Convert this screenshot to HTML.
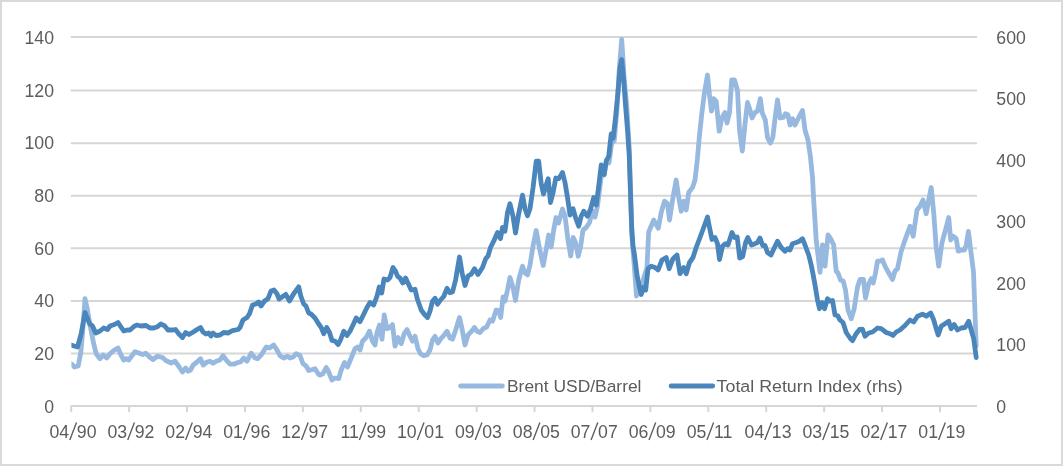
<!DOCTYPE html>
<html><head><meta charset="utf-8"><title>chart</title>
<style>
html,body{margin:0;padding:0;background:#fff;}
body{width:1063px;height:466px;overflow:hidden;}
svg{display:block;will-change:transform;}
text{font-family:"Liberation Sans",sans-serif;font-size:17.7px;fill:#5c5c5c;}
</style></head><body>
<svg width="1063" height="466" viewBox="0 0 1063 466">
<rect x="0" y="0" width="1063" height="466" fill="#ffffff"/>
<rect x="1" y="1" width="1061" height="464" fill="none" stroke="#d9d9d9" stroke-width="2"/>
<defs><clipPath id="pc"><rect x="71.4" y="30" width="908.8" height="380"/></clipPath></defs>

<line x1="70.8" x2="977.0" y1="37.00" y2="37.00" stroke="#d6d6d6" stroke-width="2.0"/>
<text x="54.0" y="43.80" text-anchor="end">140</text>
<line x1="70.8" x2="977.0" y1="90.50" y2="90.50" stroke="#d6d6d6" stroke-width="2.0"/>
<text x="54.0" y="96.51" text-anchor="end">120</text>
<line x1="70.8" x2="977.0" y1="143.20" y2="143.20" stroke="#d6d6d6" stroke-width="2.0"/>
<text x="54.0" y="149.22" text-anchor="end">100</text>
<line x1="70.8" x2="977.0" y1="195.70" y2="195.70" stroke="#d6d6d6" stroke-width="2.0"/>
<text x="54.0" y="201.93" text-anchor="end">80</text>
<line x1="70.8" x2="977.0" y1="248.30" y2="248.30" stroke="#d6d6d6" stroke-width="2.0"/>
<text x="54.0" y="254.64" text-anchor="end">60</text>
<line x1="70.8" x2="977.0" y1="300.90" y2="300.90" stroke="#d6d6d6" stroke-width="2.0"/>
<text x="54.0" y="307.35" text-anchor="end">40</text>
<line x1="70.8" x2="977.0" y1="353.50" y2="353.50" stroke="#d6d6d6" stroke-width="2.0"/>
<text x="54.0" y="360.06" text-anchor="end">20</text>
<text x="54.0" y="412.77" text-anchor="end">0</text>
<text x="996.3" y="43.50">600</text>
<text x="996.3" y="105.00">500</text>
<text x="996.3" y="166.50">400</text>
<text x="996.3" y="228.00">300</text>
<text x="996.3" y="289.50">200</text>
<text x="996.3" y="351.00">100</text>
<text x="996.3" y="412.50">0</text>
<line x1="70.60000000000001" x2="977.0" y1="406.0" y2="406.0" stroke="#d6d6d6" stroke-width="2.0"/>
<line x1="71.20" x2="71.20" y1="406.0" y2="412.2" stroke="#d6d6d6" stroke-width="2.0"/>
<text x="69.20" y="437.7" text-anchor="end">04</text>
<line x1="69.80" y1="440.0" x2="76.50" y2="422.6" stroke="#5c5c5c" stroke-width="1.35"/>
<text x="76.80" y="437.7">90</text>
<line x1="129.12" x2="129.12" y1="406.0" y2="412.2" stroke="#d6d6d6" stroke-width="2.0"/>
<text x="127.12" y="437.7" text-anchor="end">03</text>
<line x1="127.72" y1="440.0" x2="134.42" y2="422.6" stroke="#5c5c5c" stroke-width="1.35"/>
<text x="134.72" y="437.7">92</text>
<line x1="187.04" x2="187.04" y1="406.0" y2="412.2" stroke="#d6d6d6" stroke-width="2.0"/>
<text x="185.04" y="437.7" text-anchor="end">02</text>
<line x1="185.64" y1="440.0" x2="192.34" y2="422.6" stroke="#5c5c5c" stroke-width="1.35"/>
<text x="192.64" y="437.7">94</text>
<line x1="244.96" x2="244.96" y1="406.0" y2="412.2" stroke="#d6d6d6" stroke-width="2.0"/>
<text x="242.96" y="437.7" text-anchor="end">01</text>
<line x1="243.56" y1="440.0" x2="250.26" y2="422.6" stroke="#5c5c5c" stroke-width="1.35"/>
<text x="250.56" y="437.7">96</text>
<line x1="302.88" x2="302.88" y1="406.0" y2="412.2" stroke="#d6d6d6" stroke-width="2.0"/>
<text x="300.88" y="437.7" text-anchor="end">12</text>
<line x1="301.48" y1="440.0" x2="308.18" y2="422.6" stroke="#5c5c5c" stroke-width="1.35"/>
<text x="308.48" y="437.7">97</text>
<line x1="360.80" x2="360.80" y1="406.0" y2="412.2" stroke="#d6d6d6" stroke-width="2.0"/>
<text x="358.80" y="437.7" text-anchor="end">11</text>
<line x1="359.40" y1="440.0" x2="366.10" y2="422.6" stroke="#5c5c5c" stroke-width="1.35"/>
<text x="366.40" y="437.7">99</text>
<line x1="418.72" x2="418.72" y1="406.0" y2="412.2" stroke="#d6d6d6" stroke-width="2.0"/>
<text x="416.72" y="437.7" text-anchor="end">10</text>
<line x1="417.32" y1="440.0" x2="424.02" y2="422.6" stroke="#5c5c5c" stroke-width="1.35"/>
<text x="424.32" y="437.7">01</text>
<line x1="476.64" x2="476.64" y1="406.0" y2="412.2" stroke="#d6d6d6" stroke-width="2.0"/>
<text x="474.64" y="437.7" text-anchor="end">09</text>
<line x1="475.24" y1="440.0" x2="481.94" y2="422.6" stroke="#5c5c5c" stroke-width="1.35"/>
<text x="482.24" y="437.7">03</text>
<line x1="534.56" x2="534.56" y1="406.0" y2="412.2" stroke="#d6d6d6" stroke-width="2.0"/>
<text x="532.56" y="437.7" text-anchor="end">08</text>
<line x1="533.16" y1="440.0" x2="539.86" y2="422.6" stroke="#5c5c5c" stroke-width="1.35"/>
<text x="540.16" y="437.7">05</text>
<line x1="592.48" x2="592.48" y1="406.0" y2="412.2" stroke="#d6d6d6" stroke-width="2.0"/>
<text x="590.48" y="437.7" text-anchor="end">07</text>
<line x1="591.08" y1="440.0" x2="597.78" y2="422.6" stroke="#5c5c5c" stroke-width="1.35"/>
<text x="598.08" y="437.7">07</text>
<line x1="650.40" x2="650.40" y1="406.0" y2="412.2" stroke="#d6d6d6" stroke-width="2.0"/>
<text x="648.40" y="437.7" text-anchor="end">06</text>
<line x1="649.00" y1="440.0" x2="655.70" y2="422.6" stroke="#5c5c5c" stroke-width="1.35"/>
<text x="656.00" y="437.7">09</text>
<line x1="708.32" x2="708.32" y1="406.0" y2="412.2" stroke="#d6d6d6" stroke-width="2.0"/>
<text x="706.32" y="437.7" text-anchor="end">05</text>
<line x1="706.92" y1="440.0" x2="713.62" y2="422.6" stroke="#5c5c5c" stroke-width="1.35"/>
<text x="713.92" y="437.7">11</text>
<line x1="766.24" x2="766.24" y1="406.0" y2="412.2" stroke="#d6d6d6" stroke-width="2.0"/>
<text x="764.24" y="437.7" text-anchor="end">04</text>
<line x1="764.84" y1="440.0" x2="771.54" y2="422.6" stroke="#5c5c5c" stroke-width="1.35"/>
<text x="771.84" y="437.7">13</text>
<line x1="824.16" x2="824.16" y1="406.0" y2="412.2" stroke="#d6d6d6" stroke-width="2.0"/>
<text x="822.16" y="437.7" text-anchor="end">03</text>
<line x1="822.76" y1="440.0" x2="829.46" y2="422.6" stroke="#5c5c5c" stroke-width="1.35"/>
<text x="829.76" y="437.7">15</text>
<line x1="882.08" x2="882.08" y1="406.0" y2="412.2" stroke="#d6d6d6" stroke-width="2.0"/>
<text x="880.08" y="437.7" text-anchor="end">02</text>
<line x1="880.68" y1="440.0" x2="887.38" y2="422.6" stroke="#5c5c5c" stroke-width="1.35"/>
<text x="887.68" y="437.7">17</text>
<line x1="940.00" x2="940.00" y1="406.0" y2="412.2" stroke="#d6d6d6" stroke-width="2.0"/>
<text x="938.00" y="437.7" text-anchor="end">01</text>
<line x1="938.60" y1="440.0" x2="945.30" y2="422.6" stroke="#5c5c5c" stroke-width="1.35"/>
<text x="945.60" y="437.7">19</text>
<g clip-path="url(#pc)" fill="none" stroke-linejoin="round" stroke-linecap="round" stroke-width="4.8">
<path d="M71.2,363.7 L74.5,367.0 L78.2,366.0 L80.8,352.5 L82.8,330.0 L85.0,298.7 L87.0,307.5 L90.0,325.0 L93.7,343.7 L96.2,353.7 L100.0,358.7 L103.2,355.0 L106.7,358.0 L110.0,353.7 L113.7,350.5 L118.0,348.0 L120.7,354.5 L123.7,360.0 L126.2,358.7 L128.7,360.0 L131.7,356.0 L135.0,351.7 L138.7,353.0 L142.5,354.5 L145.7,353.2 L149.5,357.0 L153.0,359.5 L157.5,356.2 L162.5,357.5 L166.2,360.7 L171.2,363.0 L175.0,361.2 L178.7,366.2 L182.5,372.0 L185.7,368.0 L188.2,371.2 L190.5,370.0 L193.2,365.0 L197.0,362.0 L200.5,358.7 L203.2,365.0 L207.0,362.0 L210.0,361.2 L213.0,363.2 L216.2,361.2 L220.0,360.0 L223.0,355.7 L226.2,360.0 L230.0,364.2 L233.7,364.2 L238.0,362.5 L240.5,362.0 L243.7,358.0 L247.0,361.2 L251.2,353.2 L255.0,358.0 L257.5,358.7 L261.2,355.0 L266.2,347.0 L269.5,348.0 L273.7,345.0 L276.7,349.5 L280.0,355.7 L283.7,358.0 L287.5,356.2 L290.0,358.0 L293.2,357.0 L296.2,353.7 L300.0,355.5 L303.0,363.7 L306.2,366.2 L308.7,370.5 L312.5,369.5 L315.0,368.7 L318.7,374.5 L320.0,375.0 L323.0,373.7 L326.2,367.5 L328.7,372.0 L332.0,380.0 L335.0,378.0 L338.7,378.7 L341.2,370.0 L344.5,362.5 L347.5,367.0 L351.2,358.0 L355.0,348.7 L357.5,347.0 L360.0,350.0 L362.5,341.2 L366.2,337.5 L369.5,331.2 L372.5,341.2 L375.0,345.0 L377.0,332.5 L379.5,325.0 L382.0,339.2 L384.2,315.0 L387.0,328.7 L390.0,327.5 L392.5,324.5 L395.0,346.2 L398.0,337.5 L401.2,343.7 L404.2,333.7 L407.0,329.5 L410.0,336.2 L412.5,341.2 L415.0,336.2 L418.0,348.7 L420.5,353.7 L423.7,355.7 L427.0,355.0 L430.0,350.0 L432.5,340.0 L435.0,336.2 L438.0,343.0 L440.5,339.2 L444.2,335.0 L447.0,331.2 L450.0,338.0 L452.5,339.2 L455.7,330.0 L459.5,317.5 L462.0,328.7 L465.0,345.0 L468.0,335.0 L471.2,331.7 L474.5,327.5 L477.0,331.2 L480.0,332.5 L483.2,328.7 L486.7,327.0 L490.0,320.0 L492.5,321.2 L496.2,310.0 L498.7,310.5 L500.7,317.5 L503.0,297.0 L505.0,301.0 L507.5,290.0 L510.0,277.5 L513.0,287.5 L515.5,300.5 L518.7,280.0 L522.5,266.2 L525.0,273.0 L527.5,275.0 L530.0,265.0 L533.2,245.0 L536.2,230.5 L539.3,247.5 L543.2,265.5 L546.2,249.5 L548.7,235.0 L551.2,247.0 L553.7,230.0 L556.0,217.5 L558.5,223.0 L562.5,209.0 L565.0,216.0 L568.0,240.0 L570.7,256.0 L573.2,237.5 L575.5,242.5 L578.2,256.2 L580.7,246.2 L583.0,230.0 L586.2,227.5 L589.5,222.5 L592.5,211.0 L595.0,217.0 L597.5,206.0 L600.0,186.0 L602.0,170.0 L604.2,175.0 L606.5,160.0 L609.0,163.0 L611.7,143.0 L614.2,141.0 L616.7,113.0 L619.2,70.0 L621.7,39.5 L624.2,79.0 L626.7,105.5 L629.2,147.7 L631.8,234.6 L634.3,266.0 L636.5,296.0 L639.3,285.0 L641.8,284.0 L644.3,276.0 L646.9,268.0 L648.7,232.0 L653.7,220.0 L658.3,228.3 L661.2,212.5 L664.5,201.2 L667.5,203.7 L669.5,220.0 L673.0,197.5 L676.2,180.0 L678.7,197.5 L681.2,211.2 L683.7,201.2 L686.2,210.0 L688.7,192.5 L692.5,187.5 L695.0,180.0 L697.3,160.0 L699.5,135.0 L702.0,112.0 L704.5,92.5 L707.5,75.0 L709.5,95.0 L711.5,111.2 L713.7,98.7 L716.2,101.2 L719.2,131.2 L722.0,117.5 L725.0,112.5 L727.0,123.0 L729.5,112.5 L731.7,80.0 L734.5,80.0 L737.5,90.5 L739.5,130.0 L742.3,151.0 L745.0,124.0 L747.5,102.5 L750.0,110.0 L752.0,118.0 L755.0,112.5 L757.5,111.2 L760.3,98.7 L762.3,113.0 L765.3,120.0 L767.5,137.5 L770.3,143.0 L772.8,137.5 L775.0,118.7 L777.5,100.0 L780.0,118.0 L783.3,117.5 L785.5,113.7 L788.0,115.0 L790.0,125.0 L792.5,118.7 L795.0,125.0 L798.7,117.5 L802.5,110.5 L805.0,130.0 L808.0,140.0 L810.5,157.5 L812.5,177.5 L813.7,200.0 L816.2,240.0 L820.0,272.3 L822.5,245.0 L825.0,266.2 L828.0,235.0 L830.7,238.7 L833.7,245.0 L836.2,271.2 L838.0,273.0 L840.5,280.0 L843.2,281.0 L845.5,290.0 L848.0,310.0 L851.2,318.7 L854.2,308.7 L857.5,287.0 L860.0,279.5 L863.5,279.5 L865.5,298.0 L868.7,283.7 L871.2,278.7 L873.2,283.0 L875.5,273.0 L877.5,261.2 L880.0,261.2 L882.5,260.0 L885.0,266.2 L888.5,272.5 L892.5,279.5 L895.0,271.0 L897.5,268.7 L901.2,251.2 L905.0,240.0 L910.0,226.2 L913.2,236.2 L917.0,210.0 L920.0,206.2 L923.0,200.0 L926.2,213.7 L928.7,200.0 L931.2,187.5 L933.7,212.5 L936.2,247.5 L938.7,266.2 L942.0,242.5 L945.5,230.0 L948.7,217.5 L950.7,240.0 L953.2,236.2 L956.2,238.7 L958.2,251.2 L961.2,250.0 L964.5,250.0 L966.2,245.0 L968.4,231.3 L971.0,252.5 L973.5,272.0 L976.2,346.0" stroke="#97b9df"/>
<path d="M71.2,345.0 L74.0,346.0 L77.5,347.0 L81.2,333.7 L85.0,312.5 L89.5,323.7 L92.5,326.0 L95.7,333.0 L100.0,331.0 L103.7,328.0 L107.5,329.5 L110.0,326.0 L114.5,324.5 L118.0,322.5 L121.0,327.0 L123.7,331.0 L127.5,330.0 L130.0,330.0 L133.7,326.7 L136.7,325.0 L141.0,326.0 L146.0,325.5 L150.0,328.0 L153.7,328.0 L157.5,326.7 L160.7,324.0 L164.5,325.7 L168.0,330.0 L172.5,330.0 L175.5,329.5 L178.7,333.7 L182.5,337.5 L185.7,332.5 L189.0,334.5 L193.7,331.7 L197.0,329.5 L200.5,327.5 L203.0,332.0 L206.0,334.0 L208.7,333.0 L211.0,336.0 L213.0,333.0 L216.0,335.5 L220.0,335.0 L223.7,332.5 L228.0,333.0 L232.5,330.7 L238.0,329.5 L240.0,327.5 L243.0,320.0 L247.0,317.5 L249.5,313.7 L252.5,305.0 L256.0,304.0 L258.7,302.0 L261.0,306.0 L264.5,301.0 L268.0,298.7 L271.0,291.0 L274.0,290.0 L277.0,293.7 L279.0,299.0 L283.5,296.0 L285.8,294.4 L289.5,301.0 L293.5,294.0 L298.7,286.9 L300.8,296.0 L303.7,304.0 L306.0,306.0 L308.7,313.0 L311.0,314.0 L315.0,318.0 L318.7,324.0 L321.2,327.5 L323.7,333.7 L326.7,327.5 L329.5,332.5 L332.0,340.5 L335.0,341.2 L338.2,344.5 L340.5,340.0 L343.7,331.2 L347.0,335.5 L350.0,331.2 L353.0,325.0 L356.2,318.0 L360.0,321.7 L363.7,314.2 L367.0,307.5 L370.0,302.5 L373.7,305.0 L377.0,296.2 L379.2,287.0 L381.7,293.0 L384.0,279.0 L387.5,280.0 L390.0,277.5 L393.0,267.5 L395.5,271.2 L397.5,276.2 L400.0,278.0 L402.8,283.0 L405.6,278.0 L408.4,284.0 L411.2,290.0 L415.0,289.3 L417.3,299.0 L421.2,310.0 L424.5,314.5 L427.5,317.5 L430.0,311.2 L432.5,301.2 L435.0,298.2 L437.5,304.2 L440.5,300.0 L443.7,296.5 L447.0,288.3 L449.8,292.8 L452.5,292.0 L455.6,280.0 L459.5,257.0 L462.0,272.5 L465.0,285.5 L468.0,276.0 L471.2,274.2 L474.5,268.7 L478.0,274.5 L482.5,267.5 L485.7,258.7 L488.0,256.2 L490.5,247.5 L493.7,241.2 L497.5,232.5 L500.5,238.7 L502.5,227.5 L505.0,231.2 L507.5,212.5 L510.0,203.7 L513.0,216.2 L515.5,233.0 L518.7,213.7 L522.5,195.2 L525.0,208.7 L527.5,215.8 L530.0,208.7 L533.0,188.0 L536.2,161.2 L538.7,161.2 L541.2,183.7 L543.5,194.0 L546.2,185.0 L548.2,178.7 L550.5,202.5 L553.0,193.0 L555.8,178.0 L558.7,178.7 L562.5,172.5 L565.0,182.5 L567.5,197.5 L570.0,215.0 L573.0,208.7 L575.5,217.5 L578.7,226.2 L581.2,216.2 L583.7,211.2 L587.5,216.2 L590.7,208.7 L593.7,197.5 L596.2,205.0 L598.7,186.2 L601.2,165.0 L604.2,174.5 L606.2,161.2 L608.7,156.2 L611.2,134.0 L613.2,138.0 L615.5,117.5 L618.0,92.5 L620.0,67.5 L621.7,59.5 L623.7,80.0 L625.5,105.0 L627.5,130.0 L629.2,155.0 L630.5,192.5 L631.7,227.5 L633.0,246.0 L634.5,255.0 L637.0,275.0 L639.5,287.5 L641.2,294.5 L643.2,287.5 L645.7,290.0 L648.0,268.7 L651.2,266.2 L655.0,267.5 L658.0,270.0 L662.0,260.0 L666.2,257.5 L669.2,268.7 L673.0,258.7 L677.0,255.0 L680.0,273.7 L683.7,267.5 L686.2,273.7 L689.5,262.5 L693.0,257.5 L696.2,247.5 L700.0,237.5 L703.7,227.5 L707.5,217.0 L709.5,227.5 L712.0,239.5 L715.0,237.5 L717.5,243.7 L719.5,259.5 L722.5,246.2 L725.5,243.7 L728.0,245.0 L732.0,232.5 L734.5,237.5 L737.2,237.0 L739.7,258.0 L742.7,256.5 L745.5,243.0 L747.8,237.5 L751.5,245.0 L755.0,243.7 L757.5,242.5 L760.0,238.0 L762.7,245.5 L765.0,245.5 L767.5,252.5 L771.0,255.0 L774.0,248.5 L777.5,241.2 L781.2,247.5 L785.0,251.2 L787.5,248.7 L790.0,250.0 L792.5,243.7 L796.2,242.5 L799.5,241.2 L802.5,238.7 L805.0,245.0 L808.7,255.0 L811.2,265.0 L813.2,275.0 L815.0,285.0 L817.5,300.0 L819.5,308.7 L822.0,302.5 L824.5,308.7 L827.5,298.7 L830.0,301.2 L832.5,300.5 L835.0,315.0 L837.5,315.5 L840.0,320.0 L843.0,322.5 L846.2,332.5 L850.0,338.0 L852.5,340.7 L856.2,333.7 L859.5,329.5 L862.5,329.2 L865.0,336.2 L868.7,333.0 L872.5,332.0 L877.5,328.0 L881.2,328.7 L886.2,332.5 L890.0,333.7 L893.0,335.5 L896.2,332.0 L900.0,330.0 L905.0,325.5 L910.0,320.0 L913.7,322.0 L917.5,316.2 L922.5,314.2 L926.2,316.2 L930.7,313.0 L933.7,320.0 L936.2,328.7 L938.2,335.0 L941.2,326.2 L945.0,323.7 L948.7,321.2 L951.2,328.7 L954.2,324.5 L957.5,330.0 L961.2,328.0 L965.0,327.5 L968.7,321.2 L971.2,330.0 L973.7,338.7 L976.2,357.5" stroke="#4a86bb"/>
</g>
<line x1="460.6" x2="502.4" y1="386" y2="386" stroke="#97b9df" stroke-width="4.8" stroke-linecap="round"/>
<text id="lg1" style="font-size:17.2px" x="507" y="392" textLength="134.5" lengthAdjust="spacingAndGlyphs">Brent USD/Barrel</text>
<line x1="671.1" x2="712.7" y1="386" y2="386" stroke="#4a86bb" stroke-width="4.8" stroke-linecap="round"/>
<text id="lg2" style="font-size:17.2px" x="716.6" y="392" textLength="186" lengthAdjust="spacingAndGlyphs">Total Return Index (rhs)</text>
</svg></body></html>
